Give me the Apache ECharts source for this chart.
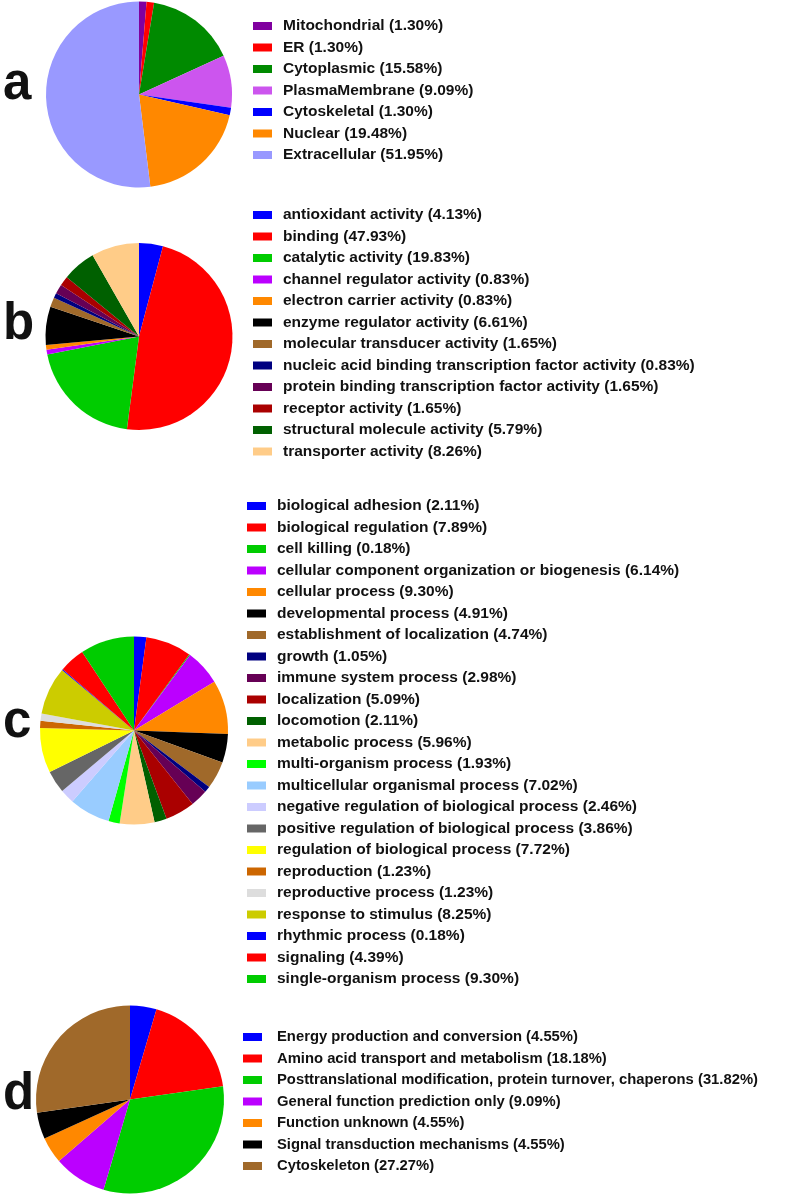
<!DOCTYPE html>
<html>
<head>
<meta charset="utf-8">
<script src="https://cdn.jsdelivr.net/npm/echarts@6/dist/echarts.min.js"></script>
<style>
html,body{margin:0;padding:0;background:#fff;}
#chart{width:787px;height:1197px;}
</style>
</head>
<body>
<div id="chart"></div>
<script>
// ---- Data ----
const namesA = ['Mitochondrial','ER','Cytoplasmic','PlasmaMembrane','Cytoskeletal','Nuclear','Extracellular'];
const valuesA = [1.30,1.30,15.58,9.09,1.30,19.48,51.95];
const colorsA = ['#80009F','#FF0000','#008A00','#CC55EE','#0000FF','#FF8800','#9999FF'];

const namesB = ['antioxidant activity','binding','catalytic activity','channel regulator activity','electron carrier activity','enzyme regulator activity','molecular transducer activity','nucleic acid binding transcription factor activity','protein binding transcription factor activity','receptor activity','structural molecule activity','transporter activity'];
const valuesB = [4.13,47.93,19.83,0.83,0.83,6.61,1.65,0.83,1.65,1.65,5.79,8.26];
const colorsB = ['#0000FF','#FF0000','#00CC00','#BB00FF','#FF8800','#000000','#A0692A','#000080','#660055','#AA0000','#006000','#FFCC88'];

const namesC = ['biological adhesion','biological regulation','cell killing','cellular component organization or biogenesis','cellular process','developmental process','establishment of localization','growth','immune system process','localization','locomotion','metabolic process','multi-organism process','multicellular organismal process','negative regulation of biological process','positive regulation of biological process','regulation of biological process','reproduction','reproductive process','response to stimulus','rhythmic process','signaling','single-organism process'];
const valuesC = [2.11,7.89,0.18,6.14,9.30,4.91,4.74,1.05,2.98,5.09,2.11,5.96,1.93,7.02,2.46,3.86,7.72,1.23,1.23,8.25,0.18,4.39,9.30];
const colorsC = ['#0000FF','#FF0000','#00CC00','#BB00FF','#FF8800','#000000','#A0692A','#000080','#660055','#AA0000','#006000','#FFCC88','#00FF00','#99CCFF','#CCCCFF','#666666','#FFFF00','#CC6600','#DDDDDD','#CCCC00','#0000FF','#FF0000','#00CC00'];

const namesD = ['Energy production and conversion','Amino acid transport and metabolism','Posttranslational modification, protein turnover, chaperons','General function prediction only','Function unknown','Signal transduction mechanisms','Cytoskeleton'];
const valuesD = [4.55,18.18,31.82,9.09,4.55,4.55,27.27];
const colorsD = ['#0000FF','#FF0000','#00CC00','#BB00FF','#FF8800','#000000','#A0692A'];

const panelLetters = ['a','b','c','d'];

// ---- Build ----
const FONT = '"Liberation Sans", Arial, sans-serif';
const lookup = {};
function mkData(names, values, colors){
  return names.map((n,i)=>{ lookup[n]=values[i]; return {name:n, value:values[i], itemStyle:{color:colors[i]}}; });
}
function mkSeries(names, values, colors, center, r){
  return {
    type:'pie', center:center, radius:r, startAngle:90, clockwise:true,
    label:{show:false}, labelLine:{show:false}, silent:true,
    emphasis:{disabled:true}, animation:false,
    itemStyle:{borderWidth:0},
    data: mkData(names, values, colors)
  };
}
function mkLegend(names, left, top, gapPad, fs){
  return {
    data: names, orient:'vertical', left:left, top:top, padding:0,
    itemWidth:19, itemHeight:8, itemGap:5.5, icon:'rect', selectedMode:false,
    textStyle:{fontFamily:FONT, fontWeight:'bold', fontSize:fs, color:'#111', lineHeight:16, padding:[0,0,0,gapPad]},
    formatter: function(n){ return n + ' (' + lookup[n].toFixed(2) + '%)'; }
  };
}

const chart = echarts.init(document.getElementById('chart'), null, {renderer:'canvas'});
const letterPos = [[3,102],[3,342],[3,740],[3,1112]];
chart.setOption({
  animation:false,
  backgroundColor:'#fff',
  legend:[
    mkLegend(namesA, 253, 18, 6, 15.5),
    mkLegend(namesB, 253, 207, 6, 15.5),
    mkLegend(namesC, 247, 498, 6, 15.5),
    mkLegend(namesD, 243, 1029, 10, 14.8)
  ],
  series:[
    mkSeries(namesA, valuesA, colorsA, [139,94.5], 93),
    mkSeries(namesB, valuesB, colorsB, [139,336.5], 93.5),
    mkSeries(namesC, valuesC, colorsC, [134,730.5], 94),
    mkSeries(namesD, valuesD, colorsD, [130,1099.5], 94)
  ],
  graphic: panelLetters.map((t,i)=>({
    type:'text', x:letterPos[i][0], y:letterPos[i][1] - 17.3,
    style:{text:t, font:'bold 51px ' + FONT, fill:'#111', textAlign:'left', textVerticalAlign:'middle'}
  }))
});
</script>
</body>
</html>
